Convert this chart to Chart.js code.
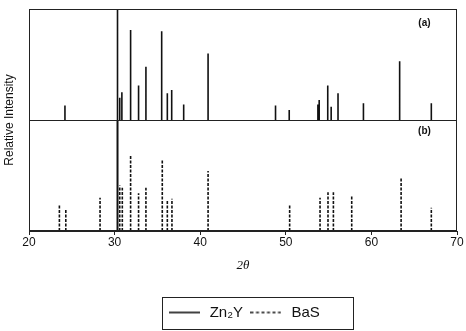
<!DOCTYPE html>
<html>
<head>
<meta charset="utf-8">
<script src="https://cdn.jsdelivr.net/npm/chart.js@4.4.1/dist/chart.umd.min.js"></script>
<style>
  html, body { margin: 0; padding: 0; background: #fff; }
  #wrap { width: 466px; height: 331px; }
</style>
</head>
<body>
<div id="wrap"><canvas id="xrd" width="466" height="331"></canvas></div>
<script>
// --- DATA ---
// panel (a): Zn2Y pattern, 2-theta positions and relative intensities
const zn2yPosA = [24.2, 30.34, 30.6, 30.85, 31.87, 32.8, 33.66, 35.5, 36.16, 36.67, 38.07, 40.92, 48.8, 50.4, 53.75, 53.9, 54.9, 55.3, 56.1, 59.07, 63.3, 67.0];
const zn2yIntA = [13, 100, 20, 25, 81, 31, 48, 80, 24, 27, 14, 60, 13, 9, 14, 18, 31, 12, 24, 15, 53, 15];
// panel (b): main Zn2Y line + BaS lines
const zn2yPosB = [30.34];
const zn2yIntB = [100];
const basPosB = [23.55, 24.3, 28.3, 30.6, 30.9, 31.87, 32.8, 33.66, 35.57, 36.16, 36.7, 40.92, 50.45, 54.0, 54.93, 55.56, 57.7, 63.47, 67.0];
const basIntB = [24, 19, 30, 41, 39, 69, 34, 39, 64, 28, 29, 54, 24, 30, 35, 35, 31, 48, 21];
const xTicks = [20, 30, 40, 50, 60, 70];
const panelLabels = ['(a)', '(b)'];

const sans = '"Liberation Sans", Arial, Helvetica, sans-serif';
const ink = '#111';

// each peak becomes a vertical stick: baseline -> intensity, then a gap
function sticks(pos, ints) {
    const pts = [];
    pos.forEach((p, i) => {
        pts.push({ x: p, y: 0 }, { x: p, y: ints[i] }, { x: p, y: null });
    });
    return pts;
}

// small line samples used as legend symbols (keeps the dash visible)
function lineSample(dash) {
    const c = document.createElement('canvas');
    c.width = 31; c.height = 4;
    const g = c.getContext('2d');
    g.strokeStyle = ink;
    g.lineWidth = 1.6;
    g.setLineDash(dash);
    g.beginPath(); g.moveTo(0, 2); g.lineTo(31, 2); g.stroke();
    return c;
}

const stickStyle = { borderColor: ink, borderWidth: 1.6, pointRadius: 0, fill: false, tension: 0 };

const panelAxis = {
    type: 'linear', position: 'left', stack: 'xrd', stackWeight: 1,
    min: 0, max: 100,
    ticks: { display: false },
    grid: { display: false },
    border: { display: true, color: '#222', width: 1 },
    afterFit: s => { s.width = 0; }
};

const framePlugin = {
    id: 'frame',
    afterDraw(chart) {
        const { ctx, chartArea: a, scales } = chart;
        const L = Math.round(a.left) + 0.5, R = Math.round(a.right) - 0.5;
        const T = Math.round(a.top) + 0.5, B = Math.round(a.bottom) - 0.5;
        ctx.save();
        ctx.strokeStyle = '#222';
        ctx.lineWidth = 1;
        ctx.strokeRect(L, T, R - L, B - T);
        const yDiv = Math.round(scales.yA.getPixelForValue(0)) + 0.5;
        ctx.beginPath(); ctx.moveTo(L, yDiv); ctx.lineTo(R, yDiv); ctx.stroke();

        // panel labels
        ctx.fillStyle = ink;
        ctx.font = 'bold 10px ' + sans;
        ctx.textAlign = 'center';
        ctx.textBaseline = 'middle';
        ctx.fillText(panelLabels[0], scales.x.getPixelForValue(66.2), scales.yA.getPixelForValue(87));
        ctx.fillText(panelLabels[1], scales.x.getPixelForValue(66.2), scales.yB.getPixelForValue(90));

        // legend frame
        const hb = chart.legend.legendHitBoxes;
        if (hb && hb.length) {
            const left = Math.min(...hb.map(h => h.left)) - 4;
            const right = Math.max(...hb.map(h => h.left + h.width)) + 33;
            const cy = hb[0].top + hb[0].height / 2;
            ctx.strokeRect(Math.round(left) + 0.5, Math.round(cy - 16) + 0.5, Math.round(right - left), 32);
        }

        // shared y title
        ctx.translate(10, (a.top + a.bottom) / 2);
        ctx.rotate(-Math.PI / 2);
        ctx.font = '12px ' + sans;
        ctx.fillText('Relative Intensity', 0, 0);
        ctx.restore();
    }
};

new Chart(document.getElementById('xrd'), {
    type: 'line',
    data: {
        datasets: [
            { label: 'Zn₂Y', data: sticks(zn2yPosA, zn2yIntA), yAxisID: 'yA', ...stickStyle, pointStyle: lineSample([]) },
            { label: 'Zn₂Y (b)', data: sticks(zn2yPosB, zn2yIntB), yAxisID: 'yB', ...stickStyle, borderWidth: 2 },
            { label: 'BaS', data: sticks(basPosB, basIntB), yAxisID: 'yB', ...stickStyle, borderDash: [3, 1.5], pointStyle: lineSample([3, 2.5]) }
        ]
    },
    options: {
        responsive: false,
        animation: false,
        devicePixelRatio: 1,
        layout: { padding: { left: 29, right: 9, top: 9, bottom: 1 } },
        scales: {
            x: {
                type: 'linear', min: 20, max: 70,
                afterBuildTicks: s => { s.ticks = xTicks.map(v => ({ value: v })); },
                ticks: { color: ink, font: { size: 12, family: sans }, padding: 0, maxRotation: 0 },
                grid: { display: true, drawOnChartArea: false, drawTicks: true, tickLength: 4, color: '#222' },
                border: { display: true, color: '#222', width: 1 },
                title: {
                    display: true, text: '2θ', color: ink,
                    font: { size: 13, style: 'italic', family: '"Liberation Serif", "Times New Roman", serif' },
                    padding: { top: 8, bottom: 27 }
                }
            },
            // bottom panel listed first so it is stacked below panel (a)
            yB: { ...panelAxis },
            yA: { ...panelAxis }
        },
        plugins: {
            legend: {
                position: 'bottom',
                labels: {
                    usePointStyle: true, pointStyleWidth: 36,
                    color: ink, font: { size: 15, family: sans }, padding: 5,
                    filter: item => item.datasetIndex !== 1
                }
            },
            tooltip: { enabled: false }
        }
    },
    plugins: [framePlugin]
});
</script>
</body>
</html>
